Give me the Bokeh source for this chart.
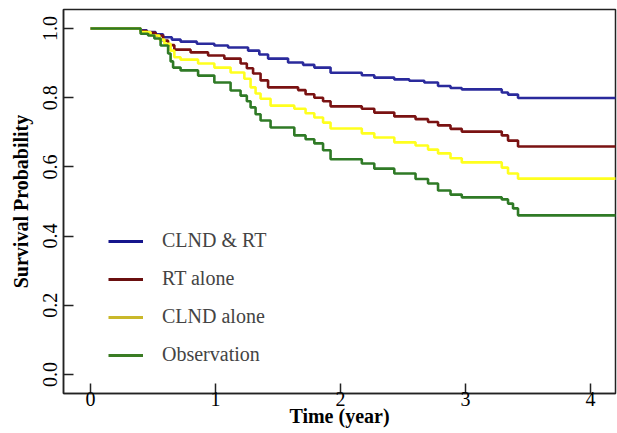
from bokeh.plotting import figure
from bokeh.models import Range1d, FixedTicker, PrintfTickFormatter, Legend, LegendItem
from bokeh.embed import file_html
from bokeh.resources import INLINE

# ---- data ----
blue_t = [0, 0.40, 0.45, 0.52, 0.58, 0.65, 0.72, 0.85, 0.99, 1.10, 1.26, 1.35, 1.42, 1.58, 1.70,
          1.79, 1.92, 2.17, 2.27, 2.43, 2.55, 2.67, 2.78, 2.88, 2.97, 3.29, 3.34, 3.42, 4.25]
blue_s = [1.0, 0.995, 0.99, 0.983, 0.975, 0.968, 0.962, 0.956, 0.951, 0.945, 0.936, 0.925, 0.913,
          0.902, 0.895, 0.887, 0.872, 0.865, 0.858, 0.853, 0.849, 0.844, 0.834, 0.828, 0.824,
          0.815, 0.809, 0.799, 0.799]

red_t = [0, 0.40, 0.45, 0.52, 0.58, 0.62, 0.67, 0.80, 0.94, 1.07, 1.20, 1.25, 1.30, 1.36, 1.42,
         1.66, 1.72, 1.79, 1.86, 1.92, 2.17, 2.27, 2.43, 2.60, 2.70, 2.78, 2.88, 2.97, 3.29, 3.34,
         3.42, 4.25]
red_s = [1.0, 0.993, 0.988, 0.98, 0.965, 0.952, 0.939, 0.931, 0.922, 0.913, 0.899, 0.885, 0.87,
         0.85, 0.83, 0.822, 0.81, 0.80, 0.79, 0.775, 0.768, 0.757, 0.746, 0.738, 0.73, 0.72, 0.71,
         0.702, 0.691, 0.676, 0.659, 0.659]

yellow_t = [0, 0.40, 0.48, 0.55, 0.59, 0.64, 0.67, 0.72, 0.86, 0.99, 1.12, 1.23, 1.28, 1.32, 1.36,
            1.44, 1.63, 1.72, 1.79, 1.86, 1.92, 2.17, 2.27, 2.43, 2.60, 2.70, 2.78, 2.88, 2.97,
            3.29, 3.34, 3.42, 4.25]
yellow_s = [1.0, 0.99, 0.98, 0.968, 0.956, 0.936, 0.917, 0.91, 0.899, 0.887, 0.873, 0.855, 0.83,
            0.812, 0.797, 0.777, 0.768, 0.755, 0.743, 0.728, 0.711, 0.697, 0.685, 0.671, 0.662,
            0.65, 0.639, 0.625, 0.613, 0.598, 0.581, 0.566, 0.566]

green_t = [0, 0.40, 0.46, 0.51, 0.56, 0.62, 0.64, 0.66, 0.72, 0.86, 0.99, 1.12, 1.20, 1.25, 1.28,
           1.32, 1.36, 1.44, 1.63, 1.72, 1.79, 1.86, 1.92, 2.17, 2.27, 2.43, 2.60, 2.70, 2.78,
           2.88, 2.97, 3.29, 3.34, 3.38, 3.42, 4.25]
green_s = [1.0, 0.985, 0.98, 0.971, 0.951, 0.928, 0.905, 0.887, 0.879, 0.864, 0.844, 0.821, 0.806,
           0.79, 0.772, 0.752, 0.734, 0.714, 0.691, 0.68, 0.668, 0.648, 0.622, 0.61, 0.595, 0.581,
           0.565, 0.552, 0.532, 0.52, 0.512, 0.506, 0.494, 0.48, 0.46, 0.46]

labels = ["CLND & RT", "RT alone", "CLND alone", "Observation"]
x_ticks = [0, 1, 2, 3, 4]
y_ticks = [0.0, 0.2, 0.4, 0.6, 0.8, 1.0]

curve_colors = ["#2a2a9c", "#7a1212", "#ffff1e", "#2f7a26"]
legend_colors = ["#15158c", "#6a0f0f", "#c9b82a", "#3a7c24"]

FONT = "Liberation Serif"

p = figure(width=617, height=433, output_backend="svg", toolbar_location=None,
           x_range=Range1d(-0.217, 4.2), y_range=Range1d(-0.055, 1.055),
           min_border_left=63, min_border_right=2, min_border_top=9, min_border_bottom=40)

p.xgrid.visible = False
p.ygrid.visible = False
p.outline_line_color = "#222222"
p.outline_line_width = 1.5
p.background_fill_color = "white"
p.border_fill_color = "white"

for t, s, c in zip([blue_t, red_t, yellow_t, green_t],
                   [blue_s, red_s, yellow_s, green_s], curve_colors):
    p.step(t, s, mode="after", line_color=c, line_width=2.6)

# axes
p.xaxis.ticker = FixedTicker(ticks=x_ticks)
p.yaxis.ticker = FixedTicker(ticks=y_ticks)
p.yaxis.formatter = PrintfTickFormatter(format="%.1f")
for ax in (p.xaxis[0], p.yaxis[0]):
    ax.axis_line_color = "#222222"
    ax.axis_line_width = 1.5
    ax.major_tick_line_color = "#222222"
    ax.major_tick_line_width = 1.5
    ax.major_tick_in = 10
    ax.major_tick_out = 0
    ax.minor_tick_line_color = None
    ax.major_label_text_font = FONT
    ax.major_label_text_font_size = "20px"
    ax.major_label_text_color = "black"
    ax.axis_label_text_font = FONT
    ax.axis_label_text_font_size = "20px"
    ax.axis_label_text_font_style = "bold"
    ax.axis_label_text_color = "black"

p.xaxis.axis_label = "Time (year)"
p.yaxis.axis_label = "Survival Probability"
p.yaxis.major_label_orientation = "vertical"
p.xaxis.major_label_standoff = -2
p.xaxis.axis_label_standoff = -4
p.yaxis.major_label_standoff = 6
p.yaxis.axis_label_standoff = 9

# legend (separate swatch renderers for legend colours)
items = []
for lab, c in zip(labels, legend_colors):
    r = p.line([float("nan")], [float("nan")], line_color=c, line_width=3)
    items.append(LegendItem(label=lab, renderers=[r]))

legend = Legend(items=items, location=(45, 27), padding=0, spacing=15, margin=0,
                glyph_width=35, glyph_height=20, label_height=20, label_standoff=19,
                label_text_font=FONT, label_text_font_size="20px",
                border_line_color=None, background_fill_alpha=0)
p.add_layout(legend)

open("out.html", "w").write(file_html(p, INLINE))
